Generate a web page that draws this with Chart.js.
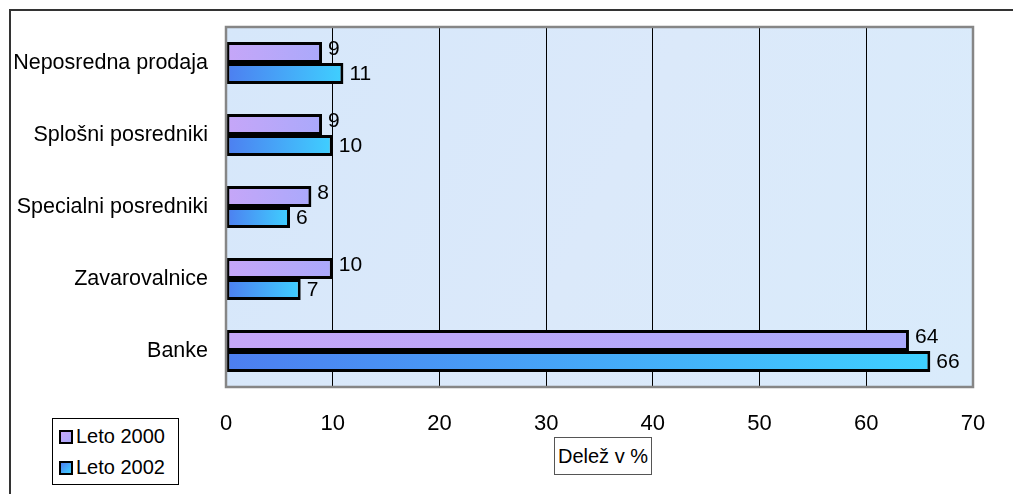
<!DOCTYPE html>
<html>
<head>
<meta charset="utf-8">
<script src="https://cdn.jsdelivr.net/npm/chart.js@4/dist/chart.umd.min.js"></script>
<style>
    html, body { margin: 0; padding: 0; background: #fff; }
    #wrap { position: relative; width: 1013px; height: 494px; overflow: hidden; font-family: "Liberation Sans", Arial, sans-serif; }
    #frame { position: absolute; left: 9px; top: 9px; right: -10px; bottom: -10px; border-left: 2px solid #333; border-top: 2px solid #333; }
    #chart { position: absolute; left: 0; top: 0; }
    #legend { position: absolute; left: 52px; top: 418px; width: 125px; height: 65px; border: 1px solid #000; background: #fff; list-style: none; margin: 0; padding: 0; }
    #legend li { display: flex; align-items: center; height: 31px; padding-left: 6px; font-size: 20px; color: #000; }
    #legend li:first-child { margin-top: 2px; }
    .dot { width: 10px; height: 10px; border: 2px solid #000; margin-right: 3px; }
    #xtitle { position: absolute; left: 554px; top: 437px; width: 96px; height: 36px; border: 1px solid #555; background: #fff; font-size: 20px; line-height: 36px; text-align: center; color: #000; }
</style>
</head>
<body>
<div id="wrap">
    <div id="frame"></div>
    <canvas id="chart" width="1013" height="494"></canvas>
    <ul id="legend"></ul>
    <div id="xtitle">Delež v %</div>
</div>
<script>
const categories = ['Neposredna prodaja', 'Splošni posredniki', 'Specialni posredniki', 'Zavarovalnice', 'Banke'];
const leto2000 = [9, 9, 8, 10, 64];
const leto2002 = [11, 10, 6, 7, 66];
const seriesNames = ['Leto 2000', 'Leto 2002'];
const xTicks = [0, 10, 20, 30, 40, 50, 60, 70];

const FONT = '"Liberation Sans", Arial, sans-serif';
const gradStops = [
    ['#c6a6f8', '#aaa9fb'],
    ['#4d7ef0', '#3fd0ff']
];

// horizontal gradient spanning each bar from 0 to its value
function barFill(ctx) {
    const chart = ctx.chart;
    const stops = gradStops[ctx.datasetIndex];
    if (!chart.chartArea || ctx.type !== 'data') return stops[0];
    const xs = chart.scales.x;
    const x0 = xs.getPixelForValue(0);
    const x1 = xs.getPixelForValue(ctx.raw);
    const g = chart.ctx.createLinearGradient(x0, 0, Math.max(x1, x0 + 1), 0);
    g.addColorStop(0, stops[0]);
    g.addColorStop(1, stops[1]);
    return g;
}

const barStyle = {
    backgroundColor: barFill,
    borderColor: '#000',
    borderWidth: 3,
    borderSkipped: false,
    categoryPercentage: 0.58,
    barPercentage: 1
};

// light blue plot background + grey frame
const plotArea = {
    id: 'plotArea',
    beforeDraw(chart) {
        const { ctx, chartArea: a } = chart;
        ctx.save();
        const g = ctx.createLinearGradient(a.left, a.top, a.right, a.bottom);
        g.addColorStop(0, '#d6e7fa');
        g.addColorStop(0.5, '#dbe9fa');
        g.addColorStop(1, '#d9ebfb');
        ctx.fillStyle = g;
        ctx.fillRect(a.left, a.top, a.right - a.left, a.bottom - a.top);
        ctx.restore();
    },
    afterDraw(chart) {
        const { ctx, chartArea: a } = chart;
        ctx.save();
        ctx.strokeStyle = '#868686';
        ctx.lineWidth = 2.5;
        ctx.strokeRect(a.left, a.top, a.right - a.left, a.bottom - a.top);
        ctx.restore();
    }
};

// value labels at the end of each bar
const valueLabels = {
    id: 'valueLabels',
    afterDatasetsDraw(chart) {
        const { ctx } = chart;
        ctx.save();
        ctx.font = '21px ' + FONT;
        ctx.fillStyle = '#000';
        ctx.textAlign = 'left';
        ctx.textBaseline = 'middle';
        chart.data.datasets.forEach((ds, di) => {
            chart.getDatasetMeta(di).data.forEach((bar, i) => {
                const dy = di === 0 ? -3 : 1;
                ctx.fillText(String(ds.data[i]), bar.x + 6, bar.y + dy);
            });
        });
        ctx.restore();
    }
};

const chart = new Chart(document.getElementById('chart'), {
    type: 'bar',
    data: {
        labels: categories,
        datasets: [
            { label: seriesNames[0], data: leto2000, ...barStyle },
            { label: seriesNames[1], data: leto2002, ...barStyle }
        ]
    },
    options: {
        indexAxis: 'y',
        responsive: false,
        animation: false,
        events: [],
        layout: { padding: { top: 27, right: 40, bottom: 0, left: 0 } },
        plugins: {
            legend: { display: false },
            tooltip: { enabled: false },
            colors: { enabled: false }
        },
        scales: {
            x: {
                min: 0,
                max: 70,
                afterBuildTicks: s => { s.ticks = xTicks.map(v => ({ value: v })); },
                afterFit: s => { s.height = 107; },
                grid: {
                    drawTicks: false,
                    color: c => (c.tick && (c.tick.value === 0 || c.tick.value === 70)) ? 'transparent' : '#000',
                    lineWidth: 1
                },
                border: { display: false },
                ticks: { color: '#000', font: { family: FONT, size: 22 }, padding: 24, maxRotation: 0 }
            },
            y: {
                afterFit: s => { s.width = 226; },
                grid: { display: false },
                border: { display: false },
                ticks: { color: '#000', font: { family: FONT, size: 21.5 }, padding: 10 }
            }
        }
    },
    plugins: [plotArea, valueLabels]
});

// legend box
const legendEl = document.getElementById('legend');
legendEl.innerHTML = '';
seriesNames.forEach((name, i) => {
    legendEl.innerHTML += `
    <li>
        <span class="dot" style="background:linear-gradient(135deg, ${gradStops[i][0]}, ${gradStops[i][1]})"></span>
        <span>${name}</span>
    </li>`;
});
</script>
</body>
</html>
